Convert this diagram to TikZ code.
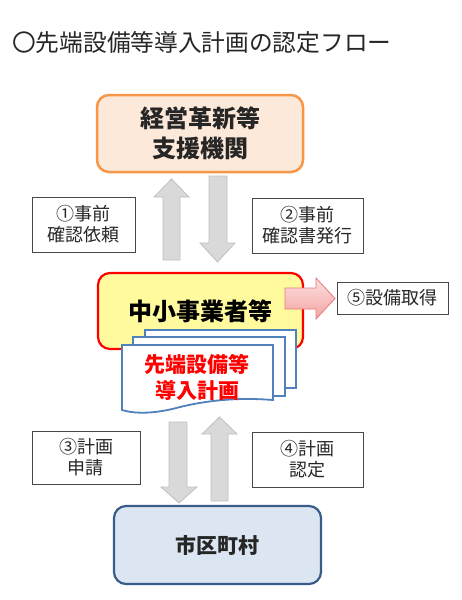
\documentclass[tikz,border=0pt]{standalone}
\usepackage{fontspec}
\newfontfamily\jp{Noto Sans CJK JP}
\usetikzlibrary{shapes.geometric}
\definecolor{orgfill}{HTML}{FDE9D9}
\definecolor{orgline}{HTML}{F79646}
\definecolor{yelfill}{HTML}{FFFA9E}
\definecolor{redline}{HTML}{FF0000}
\definecolor{bluefill}{HTML}{DCE6F2}
\definecolor{blueline}{HTML}{385D8A}
\definecolor{docline}{HTML}{4F81BD}
\definecolor{arrfill}{HTML}{D9D9D9}
\definecolor{arrline}{HTML}{C0C0C0}
\definecolor{pinkA}{HTML}{FCE0E0}
\definecolor{pinkB}{HTML}{F4A3A3}
\definecolor{pinkline}{HTML}{E8797A}
\definecolor{txt}{HTML}{262626}
\begin{document}
\begin{tikzpicture}[x=1pt,y=-1pt,
  mainbox/.style={rounded corners=12pt,align=center,inner sep=0pt,font=\jp\bfseries},
  labelbox/.style={draw=txt!85,line width=1pt,fill=white,align=center,inner sep=0pt,text=txt,font=\jp\fontsize{18}{21}\selectfont},
  blockarrow/.style={fill=arrfill,draw=arrline,line width=0.8pt,line join=miter},
  docpage/.style={draw=docline,line width=1.8pt,fill=white,line join=miter}]
\useasboundingbox (0,0) rectangle (461,600);
\fill[white] (0,0) rectangle (461,600);

% title
\node[anchor=west,inner sep=0pt,text=txt,font=\jp\fontsize{23.7}{26}\selectfont] (title) at (12,42) {〇先端設備等導入計画の認定フロー};

% top box
\node[mainbox,draw=orgline,fill=orgfill,line width=2.5pt,minimum width=206pt,minimum height=77pt,font=\jp\bfseries\fontsize{24}{29.5}\selectfont,text=txt] (kikan) at (200,133.5) {経営革新等\\支援機関};

% upper arrows
\draw[blockarrow] (171.5,179) -- (189,197) -- (180,197) -- (180,260) -- (163,260) -- (163,197) -- (154,197) -- cycle;
\draw[blockarrow] (209,176) -- (227,176) -- (227,243) -- (235,243) -- (217.5,262) -- (200,243) -- (209,243) -- cycle;

\node[labelbox,minimum width=103pt,minimum height=55pt] (l1) at (83.5,224.5) {①事前\\確認依頼};
\node[labelbox,minimum width=111pt,minimum height=55pt] (l2) at (307.5,225.5) {②事前\\確認書発行};

% middle box
\node[mainbox,draw=redline,fill=yelfill,line width=2.2pt,minimum width=205pt,minimum height=76pt,font=\jp\bfseries\fontsize{24}{26}\selectfont,text=black] (chusho) at (200.5,311) {中小事業者等};

% pink arrow
\draw[top color=pinkA,bottom color=pinkB,draw=pinkline,line width=0.8pt,line join=miter] (285,288) -- (316,288) -- (316,278) -- (335,298.5) -- (316,319) -- (316,309) -- (285,309) -- cycle;
\node[labelbox,minimum width=111pt,minimum height=32pt] (l5) at (392.5,298) {⑤設備取得};

% document stack
\draw[docpage] (145,330) rectangle (296,388);
\draw[docpage] (133,337) rectangle (285,396);
\draw[docpage] (122,345) -- (273,345) -- (273,400)
  .. controls (235,397) and (205,401) .. (180,407)
  .. controls (155,414) and (135,414) .. (122,410) -- cycle;
\node[align=center,inner sep=0pt,text=redline,font=\jp\bfseries\fontsize{21}{26}\selectfont] (plan) at (197,377) {先端設備等\\導入計画};

% lower arrows
\draw[blockarrow] (169,422) -- (187,422) -- (187,487) -- (197,487) -- (179,503) -- (161,487) -- (169,487) -- cycle;
\draw[blockarrow] (219.5,417) -- (237,434) -- (228,434) -- (228,501) -- (211,501) -- (211,434) -- (202,434) -- cycle;

\node[labelbox,minimum width=108pt,minimum height=53pt] (l3) at (86,457.5) {③計画\\申請};
\node[labelbox,minimum width=111pt,minimum height=55pt] (l4) at (307.5,459.5) {④計画\\認定};

% bottom box
\node[mainbox,draw=blueline,fill=bluefill,line width=2.2pt,minimum width=207pt,minimum height=78pt,font=\jp\bfseries\fontsize{21}{24}\selectfont,text=txt] (shiku) at (217.5,545) {市区町村};
\end{tikzpicture}
\end{document}
